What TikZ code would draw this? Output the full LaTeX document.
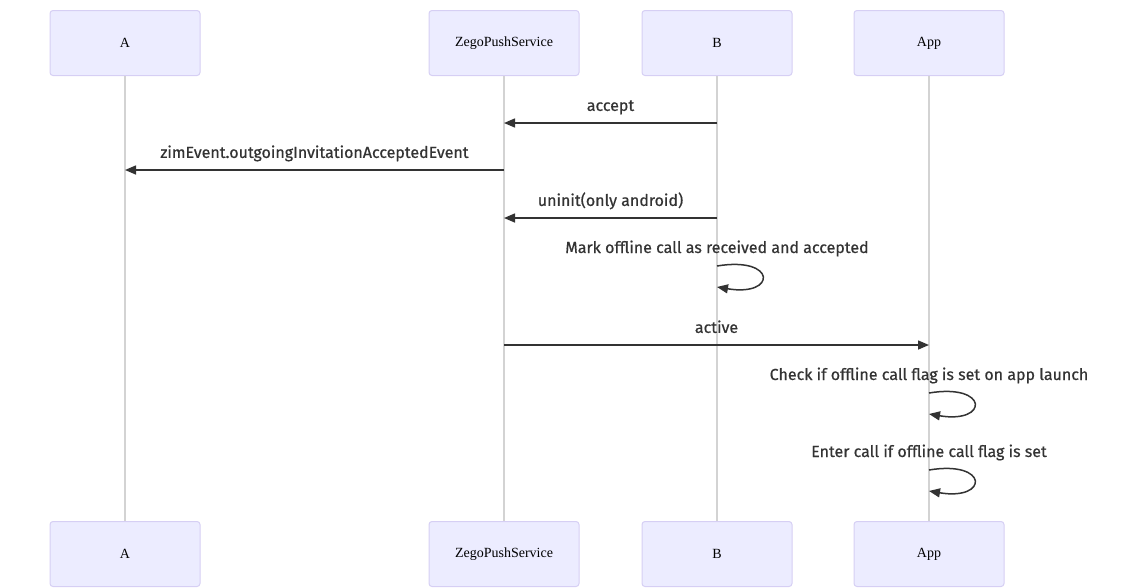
\documentclass[tikz,border=0pt]{standalone}
\usepackage{fontspec}
\setmainfont{Liberation Serif}
\newfontfamily\msgfont[FakeBold=0.6]{Fira Sans}
\usetikzlibrary{arrows.meta}
\definecolor{actorfill}{HTML}{ECECFF}
\definecolor{actorline}{HTML}{D6CFF4}
\definecolor{lifegray}{HTML}{D3D3D3}
\definecolor{msgcol}{HTML}{333333}
\begin{document}
\begin{tikzpicture}[x=1pt,y=-1pt,
    actor/.style={draw=actorline, fill=actorfill, rounded corners=3pt, line width=1pt,
        minimum width=150pt, minimum height=65pt, font=\fontsize{14}{16}\selectfont},
    life/.style={draw=lifegray, line width=1.5pt},
    msg/.style={draw=msgcol, line width=1.5pt, -{Triangle[length=11pt,width=9pt]}},
    msglabel/.style={font=\msgfont\fontsize{16}{19}\selectfont, text=msgcol,
        text height=11pt, text depth=3pt}]
    \useasboundingbox (0,0) rectangle (1139,587);
    % participants and lifelines
    \foreach \name/\txt/\x in {a/A/125, zps/ZegoPushService/504, b/B/717, app/App/929} {
        \node[actor] (\name-top) at (\x,43) {\txt};
        \node[actor] (\name-bot) at (\x,554) {\txt};
        \draw[life] (\name-top) -- (\name-bot);
    }
    % messages
    \draw[msg] (b-top |- 0,123) -- node[msglabel, above=5pt] (accept) {accept} (zps-top |- 0,123);
    \draw[msg] (zps-top |- 0,170) -- node[msglabel, above=5pt] (zimevent) {zimEvent.outgoingInvitationAcceptedEvent} (a-top |- 0,170);
    \draw[msg] (b-top |- 0,218) -- node[msglabel, above=5pt] (uninit) {uninit(only android)} (zps-top |- 0,218);
    \node[msglabel] (mark) at (b-top |- 0,249) {Mark offline call as received and accepted};
    \draw[msg] (b-top |- 0,266) .. controls +(60,-10) and +(60,10) .. (b-top |- 0,287);
    \draw[msg] (zps-top |- 0,345) -- node[msglabel, above=5pt] (active) {active} (app-top |- 0,345);
    \node[msglabel] (check) at (app-top |- 0,376) {Check if offline call flag is set on app launch};
    \draw[msg] (app-top |- 0,393) .. controls +(60,-10) and +(60,10) .. (app-top |- 0,414);
    \node[msglabel] (enter) at (app-top |- 0,453) {Enter call if offline call flag is set};
    \draw[msg] (app-top |- 0,470) .. controls +(60,-10) and +(60,10) .. (app-top |- 0,491);
\end{tikzpicture}
\end{document}
